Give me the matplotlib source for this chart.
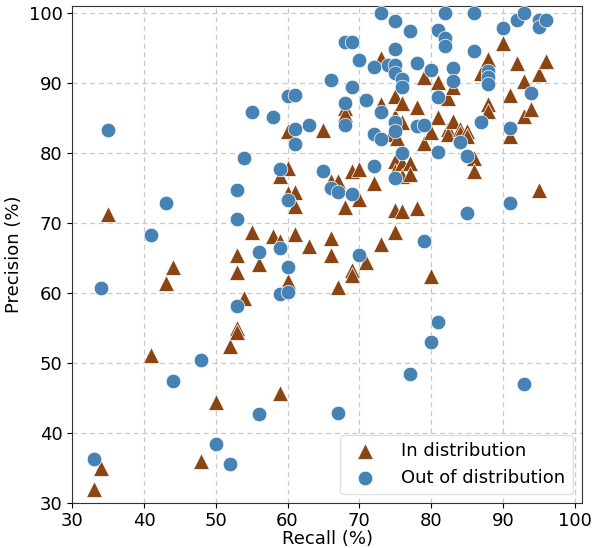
import matplotlib
matplotlib.use("Agg")
import matplotlib.pyplot as plt

# In distribution (recall, precision)
in_recall = [33, 34, 35, 41, 43, 44, 48, 50, 52, 53, 53, 53, 53, 54, 55, 56, 58, 59, 59, 59,
             60, 60, 60, 60, 61, 61, 61, 63, 65, 66, 66, 66, 67, 67, 68, 68, 68, 69, 69, 69,
             70, 70, 71, 72, 73, 73, 73, 74.4, 75.2, 75, 75, 75, 75, 75, 75, 76, 76, 76, 76, 76,
             77, 77, 78, 78, 79, 79, 80, 80, 81, 81, 82.3, 82.3, 82.3, 83, 83, 84, 84, 85, 85, 86,
             86, 87, 88, 88, 88, 90, 91, 91, 92, 93, 93, 94, 95, 95, 96]
in_precision = [32.1, 35.0, 71.3, 51.2, 61.4, 63.8, 36.1, 44.5, 52.4, 55.0, 54.5, 63.0, 65.4, 59.3, 68.7, 64.2, 68.1, 67.4, 45.7, 76.7,
                77.9, 74.3, 61.7, 83.2, 74.4, 72.4, 68.5, 66.8, 83.3, 76.0, 67.9, 65.4, 76.0, 60.9, 86.5, 85.6, 72.3, 77.4, 63.3, 62.6,
                77.7, 73.5, 64.4, 75.8, 93.6, 87.0, 67.0, 82.7, 82.2, 88.2, 85.3, 78.9, 77.4, 71.9, 68.8, 87.2, 84.4, 78.6, 76.7, 71.7,
                78.6, 77.0, 86.6, 72.2, 90.8, 81.5, 83.0, 62.5, 90.1, 85.2, 87.9, 83.5, 82.7, 89.4, 84.6, 83.4, 82.8, 83.2, 82.4, 79.3,
                77.5, 91.4, 93.5, 87.0, 86.0, 95.7, 88.3, 82.4, 92.8, 90.3, 85.3, 86.3, 91.3, 74.7, 93.2]

# Out of distribution (recall, precision)
ood_recall = [33, 34, 35, 41, 43, 44, 48, 50, 52, 53, 53, 53, 54, 55, 56, 56, 58, 59, 59, 59,
              60, 60, 60, 60, 61, 61, 61, 63, 65, 66, 66, 67, 67, 68, 68, 68, 69, 69, 69, 70,
              70, 71, 72, 72, 72, 73, 73, 73, 74, 75, 75, 75, 75, 75, 75, 75, 76, 76, 76, 77,
              77, 78, 78, 79, 79, 80, 80, 81, 81, 81, 81, 82, 82, 82, 83, 83, 84, 85, 85, 86,
              86, 87, 88, 88, 88, 90, 91, 91, 92, 93, 93, 94, 95, 95, 96]
ood_precision = [36.3, 60.7, 83.3, 68.3, 72.9, 47.4, 50.5, 38.5, 35.6, 74.7, 70.6, 58.2, 79.3, 85.9, 65.9, 42.8, 85.2, 77.7, 66.4, 59.9,
                 88.2, 73.3, 63.8, 60.1, 88.3, 83.5, 81.3, 84.0, 77.4, 90.5, 75.0, 74.4, 42.9, 95.8, 87.2, 84.0, 95.8, 89.5, 74.2, 93.3,
                 65.5, 87.6, 92.3, 82.7, 78.2, 100.0, 85.9, 82.0, 92.6, 98.8, 94.9, 92.6, 91.5, 84.4, 83.2, 76.5, 90.6, 89.4, 80.0, 97.5,
                 48.4, 92.8, 83.9, 84.0, 67.5, 91.9, 53.0, 97.6, 88.0, 80.1, 55.9, 100.0, 96.5, 95.3, 92.1, 90.3, 81.6, 79.6, 71.5, 100.0,
                 94.6, 84.5, 91.7, 90.8, 89.8, 97.8, 83.6, 72.9, 99.0, 100.0, 47.0, 88.6, 99.0, 98.0, 99.0]

labels = ["In distribution", "Out of distribution"]
x_ticks = [30, 40, 50, 60, 70, 80, 90, 100]
y_ticks = [30, 40, 50, 60, 70, 80, 90, 100]

fig = plt.figure(figsize=(5.96, 5.48), dpi=100)
ax = fig.add_axes([72.3 / 596, 44.7 / 548, (581.7 - 72.3) / 596, (503.3 - 6) / 548])

ax.scatter(in_recall, in_precision, marker="^", s=130, c="#8B4513",
           edgecolors="white", linewidths=0.5, label=labels[0], zorder=3)
ax.scatter(ood_recall, ood_precision, marker="o", s=110, c="#4682B4",
           edgecolors="white", linewidths=0.5, label=labels[1], zorder=3)

ax.set_xlim(30, 101)
ax.set_ylim(30, 101)
ax.set_xticks(x_ticks)
ax.set_yticks(y_ticks)
ax.tick_params(labelsize=13, colors="black")
ax.tick_params(axis="x", pad=2.5)
ax.grid(True, linestyle=(0, (4, 3)), color="#c8c8c8", linewidth=0.9, zorder=0)
ax.set_axisbelow(True)
for sp in ax.spines.values():
    sp.set_color("#333333")
ax.set_xlabel("Recall (%)", fontsize=13, labelpad=0)
ax.set_ylabel("Precision (%)", fontsize=13)
ax.legend(loc="lower right", fontsize=13, handletextpad=1.0,
          framealpha=0.9, edgecolor="#dddddd")

fig.savefig("out.png", dpi=100)
